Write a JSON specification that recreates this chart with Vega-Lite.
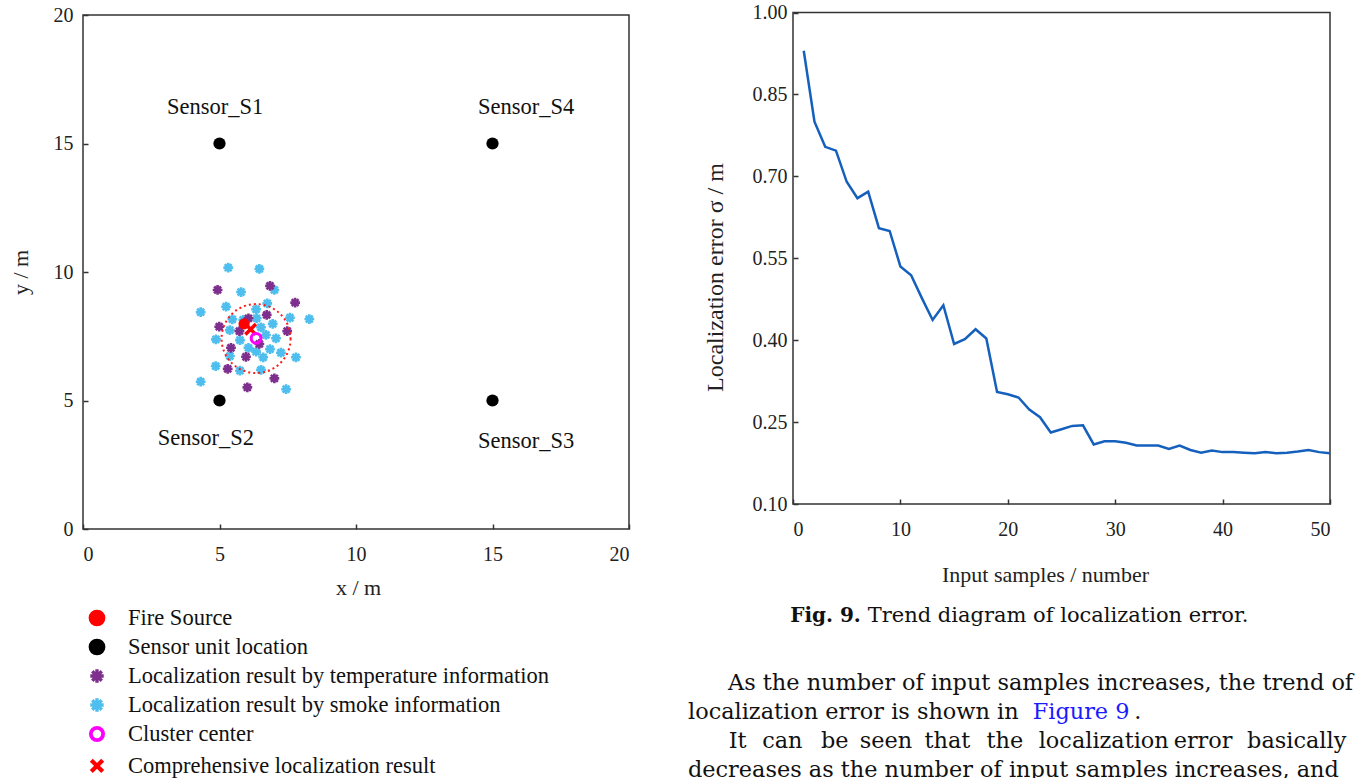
{
  "$schema": "https://vega.github.io/schema/vega-lite/v6.json",
  "width": 1356,
  "height": 778,
  "autosize": "none",
  "padding": 0,
  "background": "white",
  "config": {
    "view": {"stroke": null},
    "font": "Liberation Serif",
    "axis": {
      "labelFont": "Liberation Serif",
      "labelFontSize": 20,
      "labelColor": "#222",
      "titleFont": "Liberation Serif",
      "titleFontSize": 22,
      "titleFontWeight": "normal",
      "titleColor": "#222",
      "tickColor": "#333",
      "tickWidth": 1.5,
      "grid": false,
      "domain": false
    }
  },
  "datasets": {
    "frameL": [{"x": 0, "x2": 20, "y": 0, "y2": 20}],
    "frameR": [{"n": 0, "n2": 50, "sigma": 0.1, "sigma2": 1.0}],
    "region": [{"x": 6.34, "y": 7.41}],
    "scatter": [
      {"kind": "smoke", "x": 5.32, "y": 10.17}, {"kind": "smoke", "x": 6.46, "y": 10.12},
      {"kind": "smoke", "x": 5.79, "y": 9.22}, {"kind": "smoke", "x": 7.01, "y": 9.3},
      {"kind": "smoke", "x": 4.31, "y": 8.44}, {"kind": "smoke", "x": 5.24, "y": 8.65},
      {"kind": "smoke", "x": 6.75, "y": 8.78}, {"kind": "smoke", "x": 7.58, "y": 8.22},
      {"kind": "smoke", "x": 8.29, "y": 8.17}, {"kind": "smoke", "x": 5.47, "y": 8.16},
      {"kind": "smoke", "x": 6.36, "y": 8.2}, {"kind": "smoke", "x": 6.95, "y": 7.98},
      {"kind": "smoke", "x": 5.38, "y": 7.74}, {"kind": "smoke", "x": 6.52, "y": 7.85},
      {"kind": "smoke", "x": 4.87, "y": 7.38}, {"kind": "smoke", "x": 5.75, "y": 7.35},
      {"kind": "smoke", "x": 6.7, "y": 7.55}, {"kind": "smoke", "x": 7.07, "y": 7.42},
      {"kind": "smoke", "x": 6.06, "y": 7.05}, {"kind": "smoke", "x": 6.85, "y": 7.0},
      {"kind": "smoke", "x": 5.38, "y": 6.73}, {"kind": "smoke", "x": 6.34, "y": 6.9},
      {"kind": "smoke", "x": 7.25, "y": 6.86}, {"kind": "smoke", "x": 6.6, "y": 6.68},
      {"kind": "smoke", "x": 7.8, "y": 6.68}, {"kind": "smoke", "x": 4.86, "y": 6.34},
      {"kind": "smoke", "x": 6.52, "y": 6.19}, {"kind": "smoke", "x": 5.75, "y": 6.16},
      {"kind": "smoke", "x": 4.31, "y": 5.73}, {"kind": "smoke", "x": 7.44, "y": 5.44},
      {"kind": "smoke", "x": 5.87, "y": 8.14}, {"kind": "smoke", "x": 6.34, "y": 8.55},
      {"kind": "temp", "x": 4.93, "y": 9.3}, {"kind": "temp", "x": 6.85, "y": 9.46},
      {"kind": "temp", "x": 7.77, "y": 8.81}, {"kind": "temp", "x": 4.99, "y": 7.87},
      {"kind": "temp", "x": 6.73, "y": 8.33}, {"kind": "temp", "x": 5.73, "y": 7.7},
      {"kind": "temp", "x": 7.48, "y": 7.7}, {"kind": "temp", "x": 5.42, "y": 7.05},
      {"kind": "temp", "x": 5.97, "y": 6.7}, {"kind": "temp", "x": 5.3, "y": 6.23},
      {"kind": "temp", "x": 7.01, "y": 5.86}, {"kind": "temp", "x": 6.02, "y": 5.51},
      {"kind": "temp", "x": 6.06, "y": 8.2}, {"kind": "temp", "x": 6.46, "y": 7.2},
      {"kind": "fire", "x": 5.9, "y": 7.98},
      {"kind": "result", "x": 6.14, "y": 7.77},
      {"kind": "cluster", "x": 6.34, "y": 7.42},
      {"kind": "sensor", "x": 5, "y": 15}, {"kind": "sensor", "x": 5, "y": 5},
      {"kind": "sensor", "x": 15, "y": 5}, {"kind": "sensor", "x": 15, "y": 15}
    ],
    "sensorLabels": [
      {"label": "Sensor_S1", "x": 4.84, "y": 16.42},
      {"label": "Sensor_S4", "x": 16.23, "y": 16.42},
      {"label": "Sensor_S2", "x": 4.5, "y": 3.54},
      {"label": "Sensor_S3", "x": 16.23, "y": 3.42}
    ],
    "error": [
      {"n": 1, "sigma": 0.93}, {"n": 2, "sigma": 0.8}, {"n": 3, "sigma": 0.754}, {"n": 4, "sigma": 0.747},
      {"n": 5, "sigma": 0.69}, {"n": 6, "sigma": 0.66}, {"n": 7, "sigma": 0.672}, {"n": 8, "sigma": 0.605},
      {"n": 9, "sigma": 0.6}, {"n": 10, "sigma": 0.535}, {"n": 11, "sigma": 0.519}, {"n": 12, "sigma": 0.477},
      {"n": 13, "sigma": 0.437}, {"n": 14, "sigma": 0.464}, {"n": 15, "sigma": 0.393}, {"n": 16, "sigma": 0.402},
      {"n": 17, "sigma": 0.42}, {"n": 18, "sigma": 0.403}, {"n": 19, "sigma": 0.305}, {"n": 20, "sigma": 0.301},
      {"n": 21, "sigma": 0.295}, {"n": 22, "sigma": 0.273}, {"n": 23, "sigma": 0.259}, {"n": 24, "sigma": 0.231},
      {"n": 25, "sigma": 0.237}, {"n": 26, "sigma": 0.243}, {"n": 27, "sigma": 0.244}, {"n": 28, "sigma": 0.209},
      {"n": 29, "sigma": 0.215}, {"n": 30, "sigma": 0.215}, {"n": 31, "sigma": 0.212}, {"n": 32, "sigma": 0.207},
      {"n": 33, "sigma": 0.207}, {"n": 34, "sigma": 0.207}, {"n": 35, "sigma": 0.201}, {"n": 36, "sigma": 0.207},
      {"n": 37, "sigma": 0.199}, {"n": 38, "sigma": 0.194}, {"n": 39, "sigma": 0.198}, {"n": 40, "sigma": 0.195},
      {"n": 41, "sigma": 0.195}, {"n": 42, "sigma": 0.194}, {"n": 43, "sigma": 0.193}, {"n": 44, "sigma": 0.195},
      {"n": 45, "sigma": 0.193}, {"n": 46, "sigma": 0.194}, {"n": 47, "sigma": 0.196}, {"n": 48, "sigma": 0.199},
      {"n": 49, "sigma": 0.195}, {"n": 50, "sigma": 0.193}
    ],
    "legend": [
      {"kind": "fire", "rank": 1, "label": "Fire Source"},
      {"kind": "sensor", "rank": 2, "label": "Sensor unit location"},
      {"kind": "temp", "rank": 3, "label": "Localization result by temperature information"},
      {"kind": "smoke", "rank": 4, "label": "Localization result by smoke information"},
      {"kind": "cluster", "rank": 5, "label": "Cluster center"},
      {"kind": "result", "rank": 6.1, "label": "Comprehensive localization result"}
    ],
    "caption": [
      {"text": "Fig. 9.", "pos": 0.153, "line": -1.31, "part": "label"},
      {"text": "Trend diagram of localization error.", "pos": 0.269, "line": -1.31, "part": "body"}
    ],
    "para": [
      {"text": "As the number of input samples increases, the trend of", "pos": 0.06, "line": 1, "role": "body"},
      {"text": "localization error is shown in", "pos": 0, "line": 2, "role": "body"},
      {"text": "Figure 9", "pos": 0.516, "line": 2, "role": "link"},
      {"text": ".", "pos": 0.668, "line": 2, "role": "body"},
      {"text": "It", "pos": 0.061, "line": 3, "role": "body"},
      {"text": "can", "pos": 0.111, "line": 3, "role": "body"},
      {"text": "be", "pos": 0.199, "line": 3, "role": "body"},
      {"text": "seen", "pos": 0.257, "line": 3, "role": "body"},
      {"text": "that", "pos": 0.354, "line": 3, "role": "body"},
      {"text": "the", "pos": 0.447, "line": 3, "role": "body"},
      {"text": "localization", "pos": 0.525, "line": 3, "role": "body"},
      {"text": "error", "pos": 0.727, "line": 3, "role": "body"},
      {"text": "basically", "pos": 0.837, "line": 3, "role": "body"},
      {"text": "decreases as the number of input samples increases, and", "pos": 0, "line": 4, "role": "body"}
    ]
  },
  "layer": [
    {
      "layer": [
        {
          "data": {"name": "frameL"},
          "mark": {"type": "rect", "filled": false, "stroke": "#333", "strokeWidth": 1.5},
          "encoding": {
            "x": {"field": "x", "type": "quantitative", "scale": {"domain": [0, 20], "range": [83, 629]},
              "axis": {"orient": "bottom", "offset": -249, "values": [0, 5, 10, 15, 20], "format": "d", "tickSize": -5, "labelPadding": 20,
                "title": "x / m", "titleX": 358, "titleY": 58, "titleBaseline": "middle", "titleAlign": "center"}},
            "x2": {"field": "x2"},
            "y": {"field": "y", "type": "quantitative", "scale": {"domain": [0, 20], "range": [529, 15]},
              "axis": {"orient": "left", "offset": -83, "values": [0, 5, 10, 15, 20], "format": "d", "tickSize": -5, "labelPadding": 15,
                "title": "y / m", "titleX": -63, "titleY": 272, "titleBaseline": "middle", "titleAlign": "center", "titleAngle": -90}},
            "y2": {"field": "y2"}
          }
        },
        {
          "data": {"name": "scatter"},
          "transform": [{"filter": "datum.kind === 'smoke' || datum.kind === 'temp'"}],
          "mark": {"type": "point", "shape": "M-1,0L1,0M0,-1L0,1M-0.71,-0.71L0.71,0.71M-0.71,0.71L0.71,-0.71", "size": 95, "strokeWidth": 2.6, "filled": false, "opacity": 1},
          "encoding": {
            "x": {"field": "x", "type": "quantitative", "scale": {"domain": [0, 20], "range": [83, 629]}},
            "y": {"field": "y", "type": "quantitative", "scale": {"domain": [0, 20], "range": [529, 15]}},
            "stroke": {"field": "kind", "type": "nominal", "legend": null,
              "scale": {"domain": ["fire", "sensor", "temp", "smoke", "cluster", "result"],
                "range": ["#ff0000", "#000000", "#7E2F8E", "#4DBEEE", "#ff00ff", "#ff0000"]}}
          }
        },
        {
          "data": {"name": "region"},
          "mark": {"type": "point", "shape": "circle", "size": 4761, "filled": false, "stroke": "#ff1a1a", "strokeWidth": 2, "strokeDash": [2, 3], "opacity": 1},
          "encoding": {
            "x": {"field": "x", "type": "quantitative", "scale": {"domain": [0, 20], "range": [83, 629]}},
            "y": {"field": "y", "type": "quantitative", "scale": {"domain": [0, 20], "range": [529, 15]}}
          }
        },
        {
          "data": {"name": "scatter"},
          "transform": [{"filter": "datum.kind === 'fire'"}],
          "mark": {"type": "point", "shape": "circle", "size": 125, "filled": true, "opacity": 1},
          "encoding": {
            "x": {"field": "x", "type": "quantitative", "scale": {"domain": [0, 20], "range": [83, 629]}},
            "y": {"field": "y", "type": "quantitative", "scale": {"domain": [0, 20], "range": [529, 15]}},
            "fill": {"field": "kind", "type": "nominal", "legend": null,
              "scale": {"domain": ["fire", "sensor", "temp", "smoke", "cluster", "result"],
                "range": ["#ff0000", "#000000", "#7E2F8E", "#4DBEEE", "#ff00ff", "#ff0000"]}}
          }
        },
        {
          "data": {"name": "scatter"},
          "transform": [{"filter": "datum.kind === 'result'"}],
          "mark": {"type": "point", "shape": "M-1,-1L1,1M-1,1L1,-1", "size": 110, "strokeWidth": 3.5, "filled": false, "opacity": 1},
          "encoding": {
            "x": {"field": "x", "type": "quantitative", "scale": {"domain": [0, 20], "range": [83, 629]}},
            "y": {"field": "y", "type": "quantitative", "scale": {"domain": [0, 20], "range": [529, 15]}},
            "stroke": {"field": "kind", "type": "nominal", "legend": null}
          }
        },
        {
          "data": {"name": "scatter"},
          "transform": [{"filter": "datum.kind === 'cluster'"}],
          "mark": {"type": "point", "shape": "circle", "size": 95, "strokeWidth": 3, "filled": false, "opacity": 1},
          "encoding": {
            "x": {"field": "x", "type": "quantitative", "scale": {"domain": [0, 20], "range": [83, 629]}},
            "y": {"field": "y", "type": "quantitative", "scale": {"domain": [0, 20], "range": [529, 15]}},
            "stroke": {"field": "kind", "type": "nominal", "legend": null}
          }
        },
        {
          "data": {"name": "scatter"},
          "transform": [{"filter": "datum.kind === 'sensor'"}],
          "mark": {"type": "point", "shape": "circle", "size": 150, "filled": true, "opacity": 1},
          "encoding": {
            "x": {"field": "x", "type": "quantitative", "scale": {"domain": [0, 20], "range": [83, 629]}},
            "y": {"field": "y", "type": "quantitative", "scale": {"domain": [0, 20], "range": [529, 15]}},
            "fill": {"field": "kind", "type": "nominal", "legend": null}
          }
        },
        {
          "data": {"name": "sensorLabels"},
          "mark": {"type": "text", "font": "Liberation Serif", "fontSize": 22.5, "color": "#111", "baseline": "middle", "align": "center"},
          "encoding": {
            "x": {"field": "x", "type": "quantitative", "scale": {"domain": [0, 20], "range": [83, 629]}},
            "y": {"field": "y", "type": "quantitative", "scale": {"domain": [0, 20], "range": [529, 15]}},
            "text": {"field": "label"}
          }
        }
      ]
    },
    {
      "layer": [
        {
          "data": {"name": "frameR"},
          "mark": {"type": "rect", "filled": false, "stroke": "#333", "strokeWidth": 1.5},
          "encoding": {
            "x": {"field": "n", "type": "quantitative", "scale": {"domain": [0, 50], "range": [793, 1330]},
              "axis": {"orient": "bottom", "offset": -274, "values": [0, 10, 20, 30, 40, 50], "format": "d", "tickSize": -5, "labelPadding": 20,
                "title": "Input samples / number", "titleX": 1045, "titleY": 70, "titleBaseline": "middle", "titleAlign": "center"}},
            "x2": {"field": "n2"},
            "y": {"field": "sigma", "type": "quantitative", "scale": {"domain": [0.1, 1.0], "range": [504, 12.5]},
              "axis": {"orient": "left", "offset": -793, "values": [0.1, 0.25, 0.4, 0.55, 0.7, 0.85, 1.0], "format": ".2f", "tickSize": -5, "labelPadding": 11,
                "title": "Localization error σ   / m", "titleFontSize": 24, "titleX": -78, "titleY": 277, "titleBaseline": "middle", "titleAlign": "center", "titleAngle": -90}},
            "y2": {"field": "sigma2"}
          }
        },
        {
          "data": {"name": "error"},
          "mark": {"type": "line", "color": "#1560BD", "strokeWidth": 2.5},
          "encoding": {
            "x": {"field": "n", "type": "quantitative", "scale": {"domain": [0, 50], "range": [793, 1330]}},
            "y": {"field": "sigma", "type": "quantitative", "scale": {"domain": [0.1, 1.0], "range": [504, 12.5]}}
          }
        }
      ]
    },
    {
      "layer": [
        {
          "data": {"name": "legend"},
          "transform": [{"filter": "datum.kind === 'fire' || datum.kind === 'sensor'"}],
          "mark": {"type": "point", "shape": "circle", "size": 280, "filled": true, "opacity": 1},
          "encoding": {
            "x": {"datum": 0, "type": "quantitative", "scale": {"domain": [0, 1], "range": [97, 128]}, "axis": null},
            "y": {"field": "rank", "type": "quantitative", "scale": {"domain": [1, 6], "range": [618, 763]}, "axis": null},
            "fill": {"field": "kind", "type": "nominal", "legend": null}
          }
        },
        {
          "data": {"name": "legend"},
          "transform": [{"filter": "datum.kind === 'temp' || datum.kind === 'smoke'"}],
          "mark": {"type": "point", "shape": "M-1,0L1,0M0,-1L0,1M-0.71,-0.71L0.71,0.71M-0.71,0.71L0.71,-0.71", "size": 180, "strokeWidth": 3.4, "filled": false, "opacity": 1},
          "encoding": {
            "x": {"datum": 0, "type": "quantitative", "scale": {"domain": [0, 1], "range": [97, 128]}, "axis": null},
            "y": {"field": "rank", "type": "quantitative", "scale": {"domain": [1, 6], "range": [618, 763]}, "axis": null},
            "stroke": {"field": "kind", "type": "nominal", "legend": null}
          }
        },
        {
          "data": {"name": "legend"},
          "transform": [{"filter": "datum.kind === 'cluster'"}],
          "mark": {"type": "point", "shape": "circle", "size": 150, "strokeWidth": 3.8, "filled": false, "opacity": 1},
          "encoding": {
            "x": {"datum": 0, "type": "quantitative", "scale": {"domain": [0, 1], "range": [97, 128]}, "axis": null},
            "y": {"field": "rank", "type": "quantitative", "scale": {"domain": [1, 6], "range": [618, 763]}, "axis": null},
            "stroke": {"field": "kind", "type": "nominal", "legend": null}
          }
        },
        {
          "data": {"name": "legend"},
          "transform": [{"filter": "datum.kind === 'result'"}],
          "mark": {"type": "point", "shape": "M-1,-1L1,1M-1,1L1,-1", "size": 130, "strokeWidth": 4.2, "filled": false, "opacity": 1},
          "encoding": {
            "x": {"datum": 0, "type": "quantitative", "scale": {"domain": [0, 1], "range": [97, 128]}, "axis": null},
            "y": {"field": "rank", "type": "quantitative", "scale": {"domain": [1, 6], "range": [618, 763]}, "axis": null},
            "stroke": {"field": "kind", "type": "nominal", "legend": null}
          }
        },
        {
          "data": {"name": "legend"},
          "mark": {"type": "text", "font": "Liberation Serif", "fontSize": 22.5, "color": "#111", "align": "left", "baseline": "middle"},
          "encoding": {
            "x": {"datum": 1, "type": "quantitative", "scale": {"domain": [0, 1], "range": [97, 128]}, "axis": null},
            "y": {"field": "rank", "type": "quantitative", "scale": {"domain": [1, 6], "range": [618, 763]}, "axis": null},
            "text": {"field": "label"}
          }
        }
      ]
    },
    {
      "layer": [
        {
          "data": {"name": "caption"},
          "transform": [{"filter": "datum.part === 'label'"}],
          "mark": {"type": "text", "font": "DejaVu Serif", "fontSize": 20, "fontWeight": "bold", "color": "#111", "align": "left", "baseline": "middle"},
          "encoding": {
            "x": {"field": "pos", "type": "quantitative", "scale": {"domain": [0, 1], "range": [688, 1356]}, "axis": null},
            "y": {"field": "line", "type": "quantitative", "scale": {"domain": [1, 4], "range": [683, 770]}, "axis": null},
            "text": {"field": "text"}
          }
        },
        {
          "data": {"name": "caption"},
          "transform": [{"filter": "datum.part === 'body'"}],
          "mark": {"type": "text", "font": "DejaVu Serif", "fontSize": 21, "color": "#111", "align": "left", "baseline": "middle"},
          "encoding": {
            "x": {"field": "pos", "type": "quantitative", "scale": {"domain": [0, 1], "range": [688, 1356]}, "axis": null},
            "y": {"field": "line", "type": "quantitative", "scale": {"domain": [1, 4], "range": [683, 770]}, "axis": null},
            "text": {"field": "text"}
          }
        },
        {
          "data": {"name": "para"},
          "mark": {"type": "text", "font": "DejaVu Serif", "fontSize": 22.4, "align": "left", "baseline": "middle"},
          "encoding": {
            "x": {"field": "pos", "type": "quantitative", "scale": {"domain": [0, 1], "range": [688, 1356]}, "axis": null},
            "y": {"field": "line", "type": "quantitative", "scale": {"domain": [1, 4], "range": [683, 770]}, "axis": null},
            "text": {"field": "text"},
            "color": {"field": "role", "type": "nominal", "legend": null, "scale": {"domain": ["body", "link"], "range": ["#111111", "#1a1aff"]}}
          }
        }
      ]
    }
  ],
  "resolve": {
    "scale": {"x": "independent", "y": "independent"},
    "axis": {"x": "independent", "y": "independent"}
  }
}
